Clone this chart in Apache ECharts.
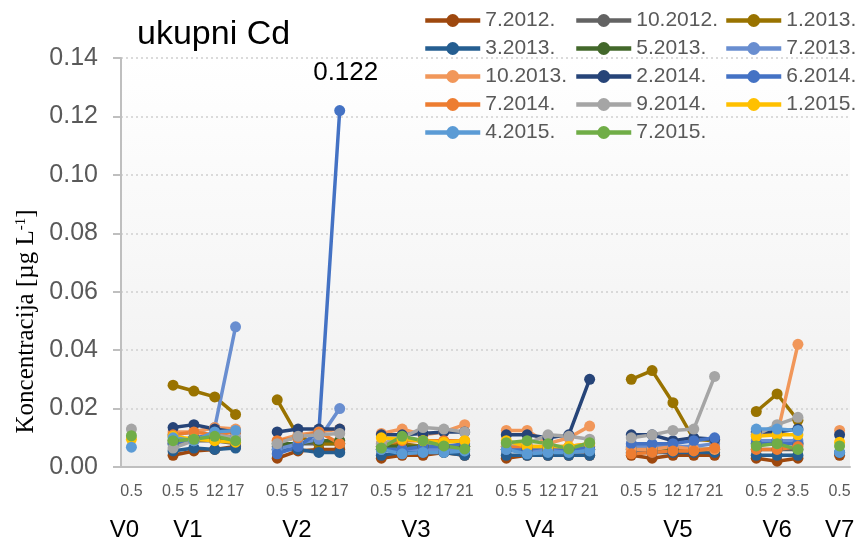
<!DOCTYPE html>
<html>
<head>
<meta charset="utf-8">
<title>ukupni Cd</title>
<script src="https://cdn.jsdelivr.net/npm/echarts@6/dist/echarts.min.js"></script>
</head>
<body style="margin:0;background:#fff">
<div id="main" style="width:859px;height:542px;"></div>
<script>
// postaje i dubine (m)
var stations = ['V0', 'V1', 'V2', 'V3', 'V4', 'V5', 'V6', 'V7'];
var depths = [
    ['0.5'],
    ['0.5', '5', '12', '17'],
    ['0.5', '5', '12', '17'],
    ['0.5', '5', '12', '17', '21'],
    ['0.5', '5', '12', '17', '21'],
    ['0.5', '5', '12', '17', '21'],
    ['0.5', '2', '3.5'],
    ['0.5']
];

// ukupni Cd po kampanjama, redom V0 | V1 | V2 | V3 | V4 | V5 | V6 | V7
var s7_2012  = [null, 0.004,0.0055,0.006,0.007, 0.003,0.0055,0.006,0.006, 0.003,0.004,0.004,0.005,0.004, 0.003,0.004,0.004,0.004,0.004, 0.004,0.003,0.004,0.004,0.004, 0.003,0.002,0.003, 0.004];
var s10_2012 = [null, 0.008,0.009,0.009,0.008, 0.007,0.008,0.008,0.008, 0.006,0.007,0.007,0.007,0.007, 0.006,0.006,0.007,0.006,0.006, 0.006,0.006,0.006,0.006,0.006, 0.006,0.006,0.006, null];
var s1_2013  = [null, 0.028,0.026,0.024,0.018, 0.023,0.0105,0.008,0.008, 0.007,0.008,0.007,0.007,0.007, 0.007,0.007,0.006,0.006,0.006, 0.030,0.033,0.022,0.0095,0.009, 0.019,0.025,0.016, null];
var s3_2013  = [null, 0.0055,0.0065,0.006,0.0065, 0.006,0.006,0.005,0.005, 0.004,0.005,0.005,0.005,0.004, 0.004,0.004,0.004,0.004,0.004, 0.005,0.005,0.005,0.005,0.005, 0.004,0.004,0.004, 0.005];
var s5_2013  = [null, 0.009,0.010,0.010,0.009, 0.008,0.008,0.009,0.009, 0.007,0.007,0.007,0.007,0.007, 0.006,0.006,0.006,0.006,0.006, 0.0065,0.006,0.006,0.006,0.006, 0.008,0.009,0.008, null];
var s7_2013  = [null, 0.011,0.012,0.0135,0.048, 0.006,0.008,0.0095,0.020, 0.006,0.006,0.006,0.006,0.006, 0.006,0.005,0.006,0.006,0.006, 0.007,0.007,0.007,0.007,0.008, 0.009,0.009,0.009, null];
var s10_2013 = [null, 0.012,0.012,0.0135,0.013, 0.009,0.011,0.012,0.013, 0.0115,0.013,0.011,0.012,0.0145, 0.0125,0.0125,0.008,0.010,0.014, 0.006,0.006,0.007,0.006,0.006, 0.011,0.011,0.042, 0.0125];
var s2_2014  = [null, 0.0135,0.0145,0.013,0.012, 0.012,0.013,0.013,0.013, 0.011,0.011,0.0115,0.012,0.012, 0.011,0.011,0.010,0.011,0.030, 0.011,0.011,0.009,0.010,0.0095, 0.012,0.012,0.013, 0.011];
var s6_2014  = [null, 0.008,0.010,0.011,0.010, 0.0045,0.007,0.012,0.122, 0.006,0.006,0.007,0.007,0.008, 0.006,0.006,0.007,0.006,0.007, 0.008,0.008,0.008,0.009,0.010, 0.008,0.008,0.008, null];
var s7_2014  = [null, 0.011,0.012,0.011,0.012, 0.009,0.010,0.012,0.008, 0.008,0.009,0.009,0.009,0.009, 0.007,0.007,0.007,0.007,0.008, 0.0045,0.005,0.0055,0.0055,0.0065, 0.006,0.006,0.007, null];
var s9_2014  = [0.013, 0.0065,0.009,0.011,0.010, 0.008,0.0105,0.011,0.0115, 0.008,0.010,0.0135,0.013,0.012, 0.008,0.008,0.011,0.0105,0.0095, 0.010,0.011,0.0125,0.013,0.031, 0.011,0.0145,0.017, null];
var s1_2015  = [0.0095, 0.0105,0.0095,0.009,0.0085, null,null,null,null, 0.010,0.0095,0.009,0.0085,0.009, 0.009,0.007,0.007,0.007,0.008, null,null,null,null,null, 0.0105,0.011,0.011, 0.0085];
var s4_2015  = [0.0068, 0.010,0.009,0.012,0.0125, null,null,null,null, 0.006,0.0045,0.005,0.005,0.0055, 0.006,0.0045,0.005,0.005,0.0055, null,null,null,null,null, 0.013,0.013,0.0125, 0.005];
var s7_2015  = [0.0107, 0.009,0.0095,0.0105,0.009, null,null,null,null, 0.0065,0.0105,0.009,0.0072,0.0062, 0.0083,0.009,0.008,0.0062,0.0083, null,null,null,null,null, 0.0072,0.008,0.006, 0.0072];

var seriesNames = ['7.2012.', '10.2012.', '1.2013.', '3.2013.', '5.2013.', '7.2013.', '10.2013.',
    '2.2014.', '6.2014.', '7.2014.', '9.2014.', '1.2015.', '4.2015.', '7.2015.'];
var seriesValues = [s7_2012, s10_2012, s1_2013, s3_2013, s5_2013, s7_2013, s10_2013,
    s2_2014, s6_2014, s7_2014, s9_2014, s1_2015, s4_2015, s7_2015];
var colors = ['#9E480E', '#636363', '#997300', '#255E91', '#43682B', '#698ED0', '#F1975A',
    '#264478', '#4472C4', '#ED7D31', '#A5A5A5', '#FFC000', '#5B9BD5', '#70AD47'];

// pomak natpisa postaja (px), samo za raspored
var stationShift = [-7, -6, -1, -7, -8, 5, 0, 0];

// kategorije: postaje odvojene praznim mjestom
var categories = [];
var anchors = {};
stations.forEach(function (st, i) {
    if (i > 0) categories.push('gap' + i);
    depths[i].forEach(function (d, j) {
        var key = st + '|' + d;
        if (j === Math.floor((depths[i].length - 1) / 2)) anchors[key] = i;
        categories.push(key);
    });
});

function expand(vals) {
    var out = [], k = 0;
    stations.forEach(function (st, i) {
        if (i > 0) out.push(null);
        depths[i].forEach(function () { out.push(vals[k++]); });
    });
    return out;
}

var stationRich = {};
stationShift.forEach(function (s, i) {
    stationRich['s' + i] = {
        fontSize: 24, color: '#000', fontFamily: 'Liberation Sans',
        padding: s < 0 ? [0, -2 * s, 0, 0] : [0, 0, 0, 2 * s]
    };
});

var peak = Math.max.apply(null, s6_2014);

var chart = echarts.init(document.getElementById('main'));

var series = seriesNames.map(function (name, i) {
    var s = {
        name: name,
        type: 'line',
        data: expand(seriesValues[i]),
        symbol: 'circle',
        symbolSize: 11,
        connectNulls: false,
        itemStyle: { color: colors[i] },
        lineStyle: { width: 3.5, color: colors[i] },
        emphasis: { disabled: true }
    };
    if (name === '6.2014.') {
        s.label = {
            show: true, position: 'top', distance: 19, offset: [6, 0],
            fontSize: 26, color: '#000', fontFamily: 'Liberation Sans',
            formatter: function (p) { return p.value === peak ? p.value.toFixed(3) : ''; }
        };
    }
    return s;
});

function legendCol(left, names) {
    return {
        orient: 'vertical', left: left, top: 10, padding: 0,
        itemWidth: 55, itemHeight: 16, itemGap: 7,
        data: names,
        lineStyle: { width: 4.5 },
        textStyle: { fontSize: 21, lineHeight: 21, color: '#595959', fontFamily: 'Liberation Sans' }
    };
}

chart.setOption({
    animation: false,
    color: colors,
    title: {
        text: 'ukupni Cd', left: 132, top: 13,
        textStyle: { fontSize: 34, fontWeight: 'normal', color: '#000', fontFamily: 'Liberation Sans' }
    },
    legend: [
        legendCol(423, ['7.2012.', '3.2013.', '10.2013.', '7.2014.', '4.2015.']),
        legendCol(574, ['10.2012.', '5.2013.', '2.2014.', '9.2014.', '7.2015.']),
        legendCol(724, ['1.2013.', '7.2013.', '6.2014.', '1.2015.'])
    ],
    grid: {
        left: 121, right: 9, top: 58, bottom: 75, show: true, borderWidth: 0,
        backgroundColor: new echarts.graphic.LinearGradient(0, 0, 0, 1, [
            { offset: 0, color: '#ffffff' }, { offset: 1, color: '#efefef' }
        ])
    },
    xAxis: [{
        type: 'category',
        data: categories,
        position: 'bottom',
        axisLine: { lineStyle: { color: '#bfbfbf', width: 2 } },
        axisTick: { show: false },
        axisLabel: {
            interval: 0, margin: 17, fontSize: 16, color: '#595959', fontFamily: 'Liberation Sans',
            formatter: function (v) { return v.indexOf('|') < 0 ? '' : v.split('|')[1]; }
        }
    }, {
        type: 'category',
        data: categories,
        position: 'bottom',
        axisLine: { show: false },
        axisTick: { show: false },
        axisLabel: {
            interval: 0, margin: 51, rich: stationRich,
            formatter: function (v) {
                return anchors[v] === undefined ? '' : '{s' + anchors[v] + '|' + stations[anchors[v]] + '}';
            }
        }
    }],
    yAxis: {
        type: 'value',
        min: 0, max: 0.14, interval: 0.02,
        name: 'Koncentracija [µg L{sup|-1}]',
        nameLocation: 'middle',
        nameGap: 82,
        nameTextStyle: {
            fontSize: 25, color: '#000', fontFamily: 'Liberation Serif',
            padding: [0, 118, 0, 0],
            rich: { sup: { fontSize: 15, color: '#000', fontFamily: 'Liberation Serif', verticalAlign: 'top', lineHeight: 15 } }
        },
        axisLine: { show: true, lineStyle: { color: '#bfbfbf', width: 2 } },
        axisTick: { show: true, length: 8, lineStyle: { color: '#bfbfbf', width: 2 } },
        axisLabel: {
            margin: 23, fontSize: 25, color: '#595959', fontFamily: 'Liberation Sans',
            formatter: function (v) { return v.toFixed(2); }
        },
        splitLine: { lineStyle: { color: '#d0d0d0', type: [2, 3], width: 1.5 } }
    },
    series: series
});

window.onresize = function () {
    chart.resize();
};
</script>
</body>
</html>
